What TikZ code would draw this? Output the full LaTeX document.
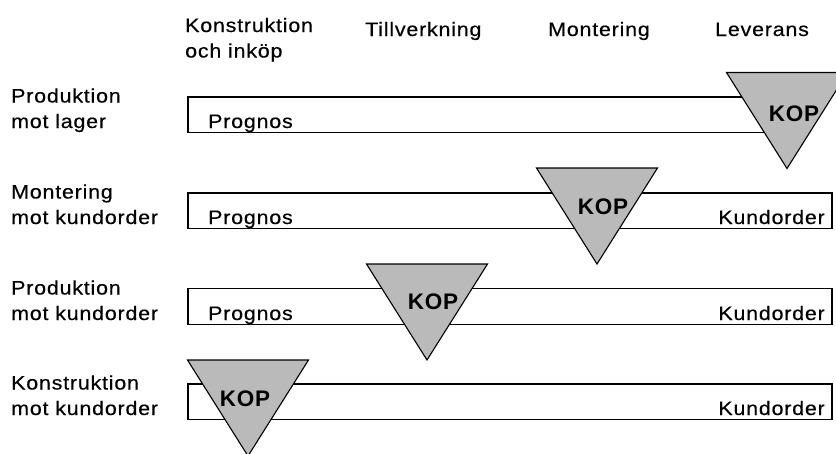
\documentclass[tikz,border=0pt]{standalone}
\usepackage{fontspec}
\setmainfont{Liberation Sans}[FakeStretch=1.1, LetterSpace=4, FakeBold=0.4]
\newfontfamily\kopfont{Liberation Sans}[LetterSpace=3]
\definecolor{kopgray}{RGB}{186,186,186}
\begin{document}
\begin{tikzpicture}[x=1pt,y=-1pt,
  lbl/.style={inner sep=0pt, font=\fontsize{19.5}{25.5}\selectfont},
  koptext/.style={inner sep=0pt, font=\kopfont\fontsize{22.5}{25}\selectfont\bfseries},
  bar/.style={draw, line width=1.4pt},
  kop/.style={draw, line width=1.1pt, fill=kopgray, line join=miter}]
\fill[white] (0,0) rectangle (836,453);
\useasboundingbox (0,0) rectangle (836,453);
\clip (0,0) rectangle (836,453);

% column headings
\node[lbl, anchor=base west] (hkonstr) at (185,32)
  {\begin{tabular}[t]{@{}l@{}}Konstruktion\\och inköp\end{tabular}};
\node[lbl, anchor=base west] (htillv) at (365,36) {Tillverkning};
\node[lbl, anchor=base west] (hmont) at (548,36) {Montering};
\node[lbl, anchor=base west] (hlev) at (715,36) {Leverans};

% row 1: produktion mot lager
\draw[bar] (188,97) rectangle (800,132.5);
\node[lbl, anchor=base west] (r1) at (11,128)
  {\begin{tabular}[b]{@{}l@{}}Produktion\\mot lager\end{tabular}};
\node[lbl, anchor=base west] (p1) at (208,128) {Prognos};
\draw[kop] (726.5,72.5) -- (847.5,72.5) -- (787,168.5) -- cycle;
\node[koptext] (k1) at (794,113.5) {KOP};

% row 2: montering mot kundorder
\draw[bar] (188,193) rectangle (832,228.5);
\node[lbl, anchor=base west] (r2) at (11,224)
  {\begin{tabular}[b]{@{}l@{}}Montering\\mot kundorder\end{tabular}};
\node[lbl, anchor=base west] (p2) at (208,224) {Prognos};
\node[lbl, anchor=base east] (c2) at (825,224) {Kundorder};
\draw[kop] (536.5,168) -- (657.5,168) -- (597,264) -- cycle;
\node[koptext] (k2) at (603,206.5) {KOP};

% row 3: produktion mot kundorder
\draw[bar] (188,288.5) rectangle (832,324.5);
\node[lbl, anchor=base west] (r3) at (11,320)
  {\begin{tabular}[b]{@{}l@{}}Produktion\\mot kundorder\end{tabular}};
\node[lbl, anchor=base west] (p3) at (208,320) {Prognos};
\node[lbl, anchor=base east] (c3) at (825,320) {Kundorder};
\draw[kop] (366.5,264) -- (487.5,264) -- (427,360) -- cycle;
\node[koptext] (k3) at (433,301.5) {KOP};

% row 4: konstruktion mot kundorder
\draw[bar] (188,384) rectangle (832,419.5);
\node[lbl, anchor=base west] (r4) at (11,415)
  {\begin{tabular}[b]{@{}l@{}}Konstruktion\\mot kundorder\end{tabular}};
\node[lbl, anchor=base east] (c4) at (825,415) {Kundorder};
\draw[kop] (187.5,360) -- (308.5,360) -- (248,456) -- cycle;
\node[koptext] (k4) at (245,399) {KOP};
\end{tikzpicture}
\end{document}
